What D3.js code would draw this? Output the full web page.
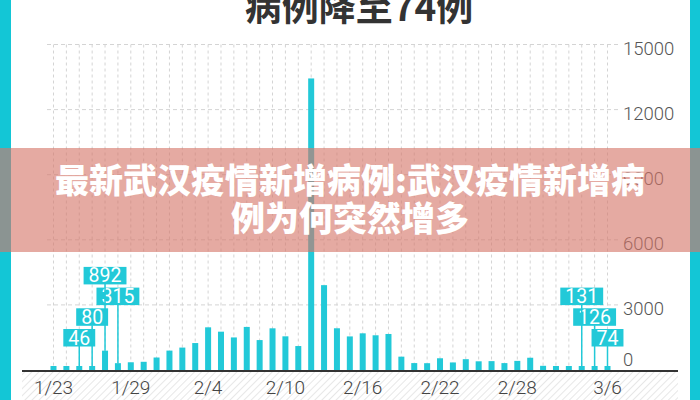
<!DOCTYPE html>
<html><head><meta charset="utf-8">
<script src="https://cdn.jsdelivr.net/npm/d3@7"></script>
<style>
html,body{margin:0;padding:0;background:#fff;}
svg{display:block;}
</style></head>
<body>
<svg id="c" width="700" height="400"></svg>
<script>
const dates = ["1/23","1/24","1/25","1/26","1/27","1/28","1/29","1/30","1/31",
  "2/1","2/2","2/3","2/4","2/5","2/6","2/7","2/8","2/9","2/10","2/11","2/12","2/13","2/14","2/15",
  "2/16","2/17","2/18","2/19","2/20","2/21","2/22","2/23","2/24","2/25","2/26","2/27","2/28","2/29",
  "3/1","3/2","3/3","3/4","3/5","3/6"];
const newCases = [70,77,46,80,892,315,356,378,576,
  894,1033,1242,1967,1766,1501,1985,1379,1921,1552,1104,13436,3910,1923,1548,
  1690,1600,1660,615,319,314,541,348,499,401,409,318,420,565,
  193,111,114,131,126,74];
const xTickLabels = ["1/23","1/29","2/4","2/10","2/16","2/22","2/28","3/6"];
const yTicks = [0,3000,6000,9000,12000,15000];
// callout groups, listed from bottom level to top level
const calloutGroups = [["1/25","1/26","1/28","1/27"],["3/6","3/5","3/4"]];
const titleText = "病例降至74例";
const bannerLines = ["最新武汉疫情新增病例:武汉疫情新增病","例为何突然增多"];

const cyan = "#22c9d8";
const svg = d3.select("#c");

const x = d3.scalePoint().domain(dates).range([53.5, 607.5]);
const y = d3.scaleLinear().domain([0,15000]).range([370, 44.5]);

// borders
svg.append("rect").attr("x",0).attr("y",0).attr("width",11).attr("height",400).attr("fill","#13c6d6");
svg.append("rect").attr("x",690).attr("y",0).attr("width",10).attr("height",400).attr("fill","#13c6d6");

// title
svg.append("text").attr("x",359).attr("y",21).attr("text-anchor","middle")
  .attr("font-family","'Noto Sans CJK SC'").attr("font-weight",700).attr("font-size",37)
  .attr("fill","#333").text(titleText);

// hatch pattern
const defs = svg.append("defs");
const pat = defs.append("pattern").attr("id","hatch").attr("patternUnits","userSpaceOnUse")
  .attr("width",5).attr("height",5).attr("patternTransform","rotate(45)");
pat.append("line").attr("x1",0).attr("y1",0).attr("x2",0).attr("y2",5)
  .attr("stroke","#d6d6d6").attr("stroke-width",1.2);
svg.append("rect").attr("x",22).attr("y",372).attr("width",656).attr("height",28).attr("fill","url(#hatch)");

// grid
const g = svg.append("g");
g.selectAll("line.v").data(dates).join("line").attr("class","v")
  .attr("x1",d=>x(d)).attr("x2",d=>x(d)).attr("y1",y(15000)).attr("y2",y(0))
  .attr("stroke","#d4d4d4").attr("stroke-width",1).attr("stroke-dasharray","3,3");
g.selectAll("line.h").data(yTicks.filter(t=>t>0)).join("line").attr("class","h")
  .attr("x1",47).attr("x2",618).attr("y1",d=>y(d)).attr("y2",d=>y(d))
  .attr("stroke","#d4d4d4").attr("stroke-width",1).attr("stroke-dasharray","4,3");

// y tick labels
svg.selectAll("text.yt").data(yTicks).join("text").attr("class","yt")
  .attr("x",623).attr("y",d=>Math.min(y(d)+10.5,366))
  .attr("font-family","Roboto, 'Liberation Sans'").attr("font-weight",300).attr("font-size",18.5)
  .attr("fill","#555").text(d=>d);

// bars
const data = dates.map((d,i)=>({date:d, value:newCases[i]}));
const barTop = d => Math.min(y(d.value), y(0)-4);
svg.selectAll("rect.bar").data(data).join("rect").attr("class","bar")
  .attr("x",d=>x(d.date)-3).attr("width",6)
  .attr("y",barTop).attr("height",d=>y(0)-barTop(d))
  .attr("fill",cyan);

// axis line
svg.append("line").attr("x1",22).attr("x2",678).attr("y1",371).attr("y2",371)
  .attr("stroke","#333").attr("stroke-width",2);

// x labels
svg.selectAll("text.xt").data(xTickLabels).join("text").attr("class","xt")
  .attr("x",d=>x(d)).attr("y",394).attr("text-anchor","middle")
  .attr("font-family","Roboto, 'Liberation Sans'").attr("font-weight",300).attr("font-size",19)
  .attr("fill","#444").text(d=>d);

// callouts
const callouts = [];
calloutGroups.forEach(grp=>grp.forEach((d,lvl)=>callouts.push({date:d, level:lvl, value:newCases[dates.indexOf(d)]})));
const cg = svg.selectAll("g.co").data(callouts).join("g").attr("class","co");
const boxTop = d => 329 - d.level*20.7;
cg.append("line").attr("x1",d=>x(d.date)).attr("x2",d=>x(d.date))
  .attr("y1",d=>boxTop(d)+17).attr("y2",d=>barTop(d))
  .attr("stroke",cyan).attr("stroke-width",1.5);
cg.append("rect").attr("class","bx").attr("y",boxTop).attr("height",17.5).attr("fill",cyan);
cg.append("text").attr("x",d=>x(d.date)).attr("y",d=>boxTop(d)+15.5)
  .attr("text-anchor","middle").attr("font-family","Roboto, 'Liberation Sans'").attr("font-size",19.5)
  .attr("fill","#fff").text(d=>d.value);
cg.each(function(d){
  const t = d3.select(this).select("text").node();
  const w = t.getComputedTextLength()+10;
  d3.select(this).select("rect.bx").attr("x",x(d.date)-w/2).attr("width",w);
});

// banner overlay
svg.append("rect").attr("x",0).attr("y",148).attr("width",700).attr("height",104)
  .attr("fill","rgb(213,118,105)").attr("fill-opacity",0.62);
svg.selectAll("text.bn").data(bannerLines).join("text").attr("class","bn")
  .attr("x",350).attr("y",(d,i)=>193+i*38).attr("text-anchor","middle")
  .attr("font-family","'Noto Sans CJK SC'").attr("font-weight",900).attr("font-size",34)
  .attr("fill","#fff").text(d=>d);
</script>
</body></html>
